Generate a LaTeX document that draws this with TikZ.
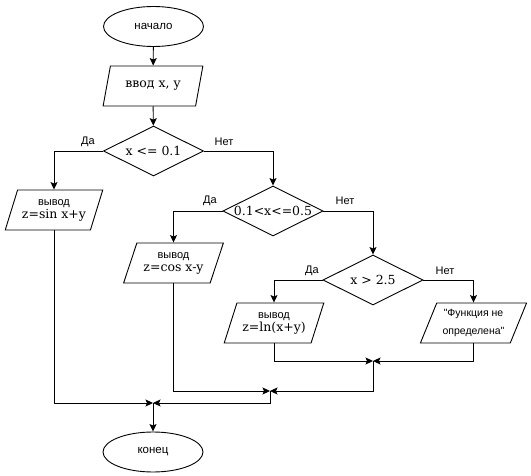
\documentclass[tikz,border=0pt]{standalone}
\usepackage{fontspec}
\setmainfont{DejaVu Serif}
\newfontfamily\sansf{Liberation Sans}
\usetikzlibrary{shapes.geometric,arrows.meta}
\tikzset{
  base/.style={draw=black,line width=0.9pt,inner sep=0pt,align=center},
  term/.style={base,ellipse,minimum width=100pt,minimum height=40pt,font=\sansf\fontsize{11.5}{13}\selectfont},
  para/.style={base,trapezium,trapezium left angle=63.4,trapezium right angle=116.6,trapezium stretches=true,minimum height=40pt},
  cond/.style={base,diamond,minimum width=100pt,minimum height=50pt},
  ctext/.style={font=\fontsize{12.5}{14}\selectfont,inner sep=0pt},
  lab/.style={font=\sansf\fontsize{11}{13}\selectfont,inner sep=0pt},
  arr/.style={line width=0.9pt,-{Stealth[length=7.5pt,width=7pt,inset=1.5pt]}}
}
\newcommand\outl[1]{{\sansf\fontsize{11}{13}\selectfont вывод}\\[1pt]{\fontsize{12.5}{14}\selectfont #1}}
\begin{document}
\begin{tikzpicture}[x=1pt,y=-1pt]
\useasboundingbox (0,0) rectangle (531,476);
\node[term] (start) at (153.5,26.5) {начало};
\node[para,minimum width=100pt,font=\fontsize{12.5}{14}\selectfont] (in) at (153,86) {ввод x, y};
\node[cond,label={[ctext]center:x <= 0.1}] (d1) at (153.5,151) {};
\node[para,minimum width=98pt] (sin) at (54,210) {\outl{z=sin x+y}};
\node[cond,label={[ctext]center:0.1<x<=0.5}] (d2) at (273,211) {};
\node[para,minimum width=100pt] (cos) at (173.5,263) {\outl{z=cos x-y}};
\node[cond,label={[ctext]center:x > 2.5}] (d3) at (373,280) {};
\node[para,minimum width=100pt] (lnb) at (274,323) {\outl{z=ln(x+y)}};
\node[para,minimum width=107pt,font=\sansf\fontsize{10.5}{18}\selectfont] (fn) at (473.5,323) {"Функция не\\определена"};
\node[term] (end) at (153,452) {конец};
\coordinate (m1) at (373,361);
\coordinate (m2) at (270,391);
\coordinate (m3) at (153,403);
\draw[arr] (start) -- (in);
\draw[arr] (in) -- (d1);
\draw[arr] (d1.west) -| (sin.north);
\draw[arr] (d1.east) -| (d2.north);
\draw[arr] (d2.west) -| (cos.north);
\draw[arr] (d2.east) -| (d3.north);
\draw[arr] (d3.west) -| (lnb.north);
\draw[arr] (d3.east) -| (fn.north);
\draw[arr] (lnb.south) |- (m1);
\draw[arr] (fn.south) |- (m1);
\draw[arr] (m1) |- (m2);
\draw[arr] (cos.south) |- (m2);
\draw[arr] (m2) |- (m3);
\draw[arr] (sin.south) |- (m3);
\draw[arr] (m3) -- (end);
\node[lab] (l1) at (88,142) {Да};
\node[lab] (l2) at (224,142) {Нет};
\node[lab] (l3) at (210,201) {Да};
\node[lab] (l4) at (345,201) {Нет};
\node[lab] (l5) at (312,271) {Да};
\node[lab] (l6) at (445,271) {Нет};
\end{tikzpicture}
\end{document}
